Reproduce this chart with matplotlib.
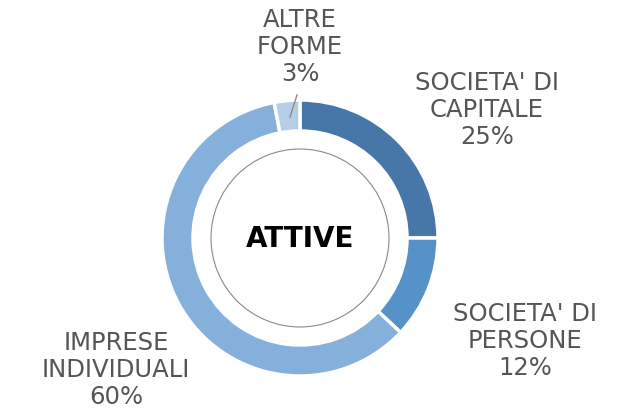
import matplotlib
matplotlib.use("Agg")
from matplotlib import pyplot as plt
from matplotlib.patches import Circle

plt.rcParams["font.family"] = ["DejaVu Sans"]

# dati
categorie = ["SOCIETA' DI\nCAPITALE", "SOCIETA' DI\nPERSONE", "IMPRESE\nINDIVIDUALI", "ALTRE\nFORME"]
valori = [25, 12, 60, 3]
colori = ["#4677a8", "#5692c8", "#86b0dc", "#b6cde9"]

W, H = 627, 411
fig = plt.figure(figsize=(W / 100, H / 100), dpi=100)
ax = fig.add_axes([0, 0, 1, 1])

cx, cy = 300, H - 238
R = 138

wedges, _ = ax.pie(
    valori,
    colors=colori,
    startangle=90,
    counterclock=False,
    center=(cx, cy),
    radius=R,
    frame=True,
    wedgeprops=dict(width=31, edgecolor="white", linewidth=2.5),
)
ax.set_xlim(0, W)
ax.set_ylim(0, H)
ax.set_aspect("equal")
ax.axis("off")

ax.add_patch(Circle((cx, cy), 89, facecolor="none", edgecolor="#8a8a8a", linewidth=0.8))
ax.text(cx, cy - 1, "ATTIVE", ha="center", va="center", fontsize=20,
        fontweight="bold", color="black")

# etichette
pos_etichette = [(487, 110), (525, 341), (116, 370), (300, 47)]
for cat, v, (px, py) in zip(categorie, valori, pos_etichette):
    ax.text(px, H - py, f"{cat}\n{v}%", ha="center", va="center", fontsize=17.5,
            color="#555555", linespacing=1.14)

ax.plot([297, 290], [H - 95, H - 117], color="#8a8a8a", linewidth=1)

fig.savefig("out.png", dpi=100)
